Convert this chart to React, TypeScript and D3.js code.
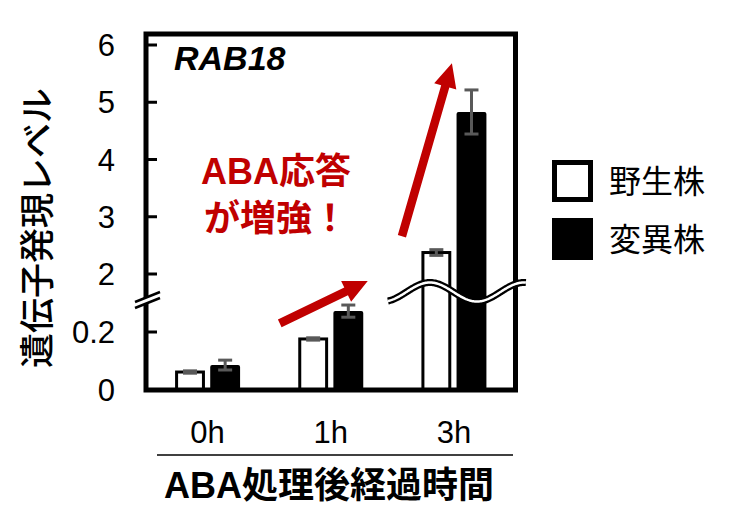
import React from "react";
import * as d3 from "d3";

const categories = ["0h", "1h", "3h"];
const seriesNames = ["野生株", "変異株"];
const wildValues = [0.062, 0.176, 2.375];
const wildErrors = [0.004, 0.004, 0.05];
const mutantValues = [0.086, 0.272, 4.83];
const mutantErrors = [0.017, 0.021, 0.385];
const lowerTicks = [0, 0.2];
const upperTicks = [2, 3, 4, 5, 6];
const breakValue = 1; // values above this are drawn on the upper segment

const W = 731;
const H = 521;
const LATIN = "'Liberation Sans', Arial, 'Noto Sans CJK JP', sans-serif";
const RED = "#C00000";

export default function App() {
  const left = 146;
  const right = 515.5;
  const top = 34;
  const bottom = 390;

  const x = d3.scaleBand<string>().domain(categories).range([left, right]).padding(0);
  const x1 = d3.scaleBand<string>().domain(seriesNames).range([-32.5, 32.5]).paddingInner(0.15);
  const yLow = d3.scaleLinear().domain([0, 0.2]).range([bottom, 332]);
  const yUp = d3.scaleLinear().domain([2, 6]).range([274, 45]);
  const y = (v: number) => (v > breakValue ? yUp(v) : yLow(v));
  const breakY = 298;

  const cx = (c: string) => (x(c) as number) + x.bandwidth() / 2;

  // wavy break across 3h group
  const waveStart = cx("3h") - 66;
  const waveEnd = right + 10;
  const wavePts: [number, number][] = d3
    .range(waveStart, waveEnd + 0.5, 1)
    .map((px) => [px, 292 - 9.5 * Math.cos((2 * Math.PI * (px - (cx("3h") - 24))) / 94)]);
  const wavePath = d3.line()(wavePts) as string;

  const arrow = (x0: number, y0: number, x1p: number, y1p: number, shaft = 8.5, headL = 24, headW = 23) => {
    const dx = x1p - x0;
    const dy = y1p - y0;
    const len = Math.hypot(dx, dy);
    const ux = dx / len;
    const uy = dy / len;
    const nx = -uy;
    const ny = ux;
    const bx = x1p - ux * headL;
    const by = y1p - uy * headL;
    const pts = [
      [x0 + (nx * shaft) / 2, y0 + (ny * shaft) / 2],
      [bx + (nx * shaft) / 2, by + (ny * shaft) / 2],
      [bx + (nx * headW) / 2, by + (ny * headW) / 2],
      [x1p, y1p],
      [bx - (nx * headW) / 2, by - (ny * headW) / 2],
      [bx - (nx * shaft) / 2, by - (ny * shaft) / 2],
      [x0 - (nx * shaft) / 2, y0 - (ny * shaft) / 2],
    ];
    return pts.map((p) => p.join(",")).join(" ");
  };

  const bars = categories.flatMap((c, i) => [
    { c, s: seriesNames[0], v: wildValues[i], e: wildErrors[i], fill: "#fff" },
    { c, s: seriesNames[1], v: mutantValues[i], e: mutantErrors[i], fill: "#000" },
  ]);

  return (
    <svg width={W} height={H} style={{ position: "absolute", left: 0, top: 0, background: "#fff" }}>
      <rect x={0} y={0} width={W} height={H} fill="#fff" />
      {/* bars */}
      {bars.map((b, i) => {
        const bx = cx(b.c) + (x1(b.s) as number);
        const bw = x1.bandwidth();
        const yt = y(b.v);
        return b.fill === "#fff" ? (
          <rect key={i} x={bx + 1.5} y={yt} width={bw - 3} height={bottom - yt} fill="#fff" stroke="#000" strokeWidth={3} />
        ) : (
          <path
            key={i}
            d={`M${bx},${bottom} L${bx},${yt + 2} Q${bx},${yt} ${bx + 2},${yt} L${bx + bw - 2},${yt} Q${bx + bw},${yt} ${bx + bw},${yt + 2} L${bx + bw},${bottom} Z`}
            fill="#000"
          />
        );
      })}
      {/* error bars */}
      {bars.map((b, i) => {
        const c = cx(b.c) + (x1(b.s) as number) + x1.bandwidth() / 2;
        const y0 = y(b.v + b.e);
        const y1v = y(b.v - b.e);
        return (
          <g key={"e" + i} stroke="#595959" strokeWidth={3}>
            <line x1={c} x2={c} y1={y0} y2={y1v} />
            <line x1={c - 7} x2={c + 7} y1={y0} y2={y0} />
            <line x1={c - 7} x2={c + 7} y1={y1v} y2={y1v} />
          </g>
        );
      })}
      {/* frame */}
      <rect x={left} y={top} width={right - left} height={bottom - top} fill="none" stroke="#000" strokeWidth={5} />
      {/* ticks */}
      {upperTicks.map((t) => (
        <line key={"ut" + t} x1={left} x2={left + 11} y1={yUp(t)} y2={yUp(t)} stroke="#000" strokeWidth={3} />
      ))}
      {lowerTicks.filter((t) => t > 0).map((t) => (
        <line key={"lt" + t} x1={left} x2={left + 11} y1={yLow(t)} y2={yLow(t)} stroke="#000" strokeWidth={3} />
      ))}
      {/* tick labels */}
      <g fontFamily={LATIN} fontSize={31} fill="#000" textAnchor="end">
        {upperTicks.map((t) => (
          <text key={"ul" + t} x={115} y={yUp(t)} dy="0.36em">
            {t}
          </text>
        ))}
        {lowerTicks.map((t) => (
          <text key={"ll" + t} x={115} y={yLow(t)} dy="0.36em">
            {t === 0 ? "0" : t.toString()}
          </text>
        ))}
      </g>
      {/* axis break */}
      <polygon points={`135,${breakY + 4} 160,${breakY - 6} 160,${breakY + 0} 135,${breakY + 10}`} fill="#fff" />
      <line x1={135} y1={breakY + 4} x2={160} y2={breakY - 6} stroke="#000" strokeWidth={2.5} />
      <line x1={135} y1={breakY + 10} x2={160} y2={breakY} stroke="#000" strokeWidth={2.5} />
      {/* wavy break */}
      <path d={wavePath} fill="none" stroke="#000" strokeWidth={7} />
      <path d={wavePath} fill="none" stroke="#fff" strokeWidth={2.5} />
      {/* RAB18 label */}
      <text x={174} y={70} fontFamily={LATIN} fontSize={34} fontWeight="bold" fontStyle="italic">
        RAB18
      </text>
      {/* arrows */}
      <polygon points={arrow(cx("1h") - 51, yLow(0.23), cx("1h") + 37, yLow(0.376))} fill={RED} />
      <polygon points={arrow(cx("3h") - 52, yUp(2.66), cx("3h") - 2, yUp(5.68))} fill={RED} />
      <g fontFamily={LATIN} fontWeight="bold" fill={RED} textAnchor="middle" fontSize={36}>
        <text x={276} y={184}>ABA応答</text>
        <text x={276} y={231}>が増強！</text>
      </g>
      {/* x labels */}
      <g fontFamily={LATIN} fontSize={31} textAnchor="middle">
        {categories.map((c) => (
          <text key={c} x={cx(c)} y={443}>
            {c}
          </text>
        ))}
      </g>
      <line x1={157} x2={513} y1={455} y2={455} stroke="#000" strokeWidth={1.5} />
      <text x={329} y={498} textAnchor="middle" fontFamily={LATIN} fontWeight="bold" fontSize={36}>
        ABA処理後経過時間
      </text>
      {/* y title */}
      <text
        transform={`translate(50,228) rotate(-90)`}
        textAnchor="middle"
        fontFamily="'Noto Sans CJK JP', sans-serif"
        fontWeight={500}
        fontSize={35}
      >
        遺伝子発現レベル
      </text>
      {/* legend */}
      <rect x={554.5} y={162.5} width={36} height={37} fill="#fff" stroke="#000" strokeWidth={5} />
      <rect x={552} y={218} width={41} height={42} fill="#000" />
      <g fontFamily="'Noto Sans CJK JP', sans-serif" fontSize={32}>
        <text x={609} y={181} dy="0.36em">{seriesNames[0]}</text>
        <text x={609} y={239} dy="0.36em">{seriesNames[1]}</text>
      </g>
    </svg>
  );
}
